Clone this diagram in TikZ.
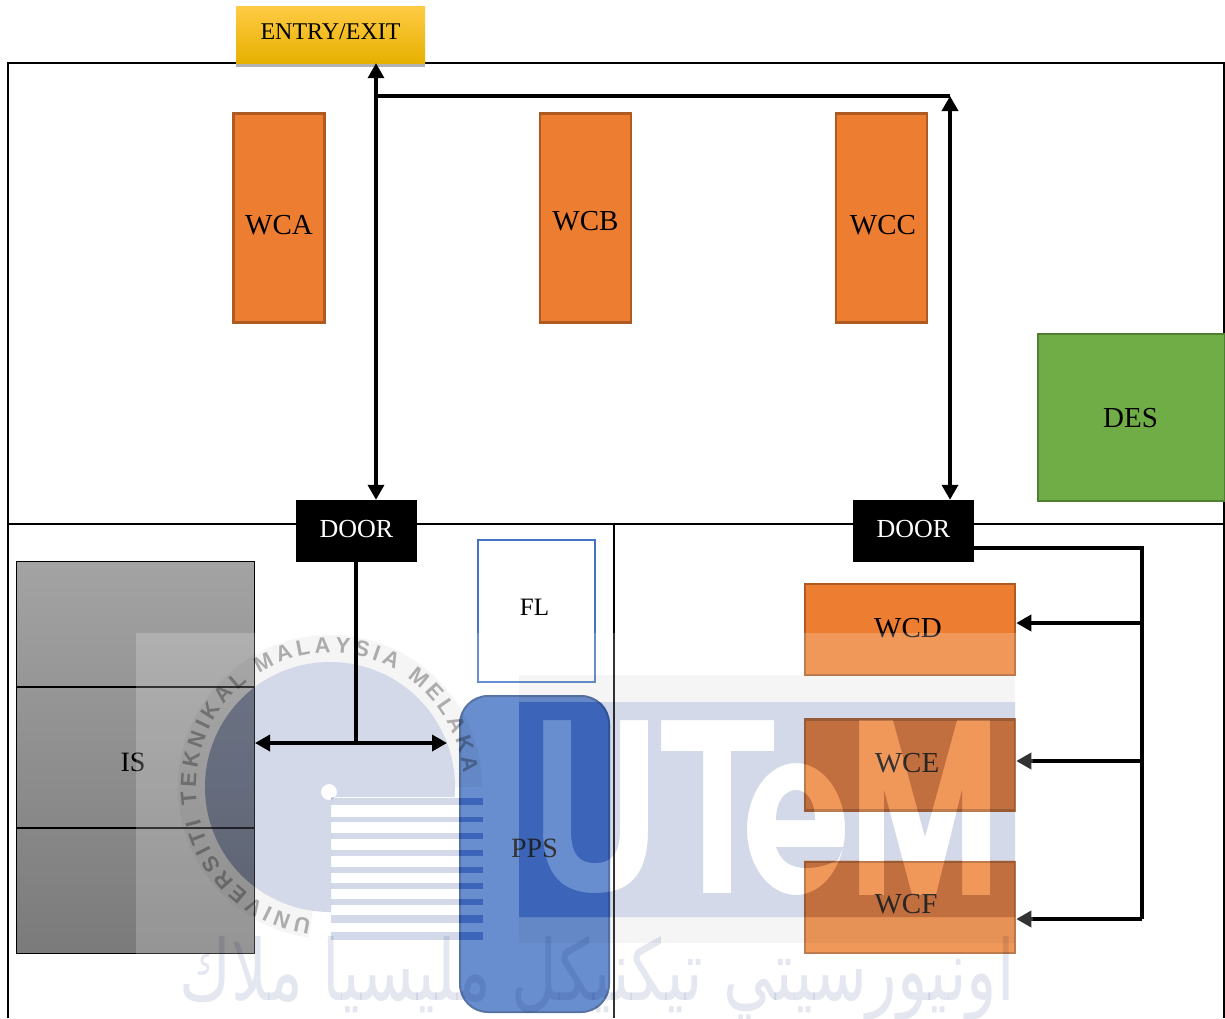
\documentclass[tikz,border=0pt]{standalone}
\usepackage{fontspec}
\setmainfont{Liberation Serif}
\setsansfont{Liberation Sans}
\newfontfamily\arabicfont[Script=Arabic]{DejaVu Sans}
\TeXXeTstate=1
\usetikzlibrary{arrows.meta,shadows,decorations.text,calc}
\definecolor{wmark}{HTML}{D3D9E8}
\definecolor{wband}{HTML}{F5F5F5}
\definecolor{wjawi}{HTML}{E4E7F0}
\definecolor{wonblue}{HTML}{B3D6FA}
\definecolor{wonorange}{HTML}{FADEC7}
\definecolor{wongray}{HTML}{C2C8D8}
\definecolor{wcfill}{HTML}{ED7D31}
\definecolor{wcedge}{HTML}{AE5A21}
\definecolor{entrytop}{HTML}{FFCB45}
\definecolor{entrymid}{HTML}{FFC000}
\definecolor{entrybot}{HTML}{E6B000}
\definecolor{desfill}{HTML}{70AD47}
\definecolor{desedge}{HTML}{507E32}
\definecolor{blueedge}{HTML}{4472C4}
\definecolor{ppsedge}{HTML}{2F528F}
\definecolor{ringtext}{HTML}{B4B4B4}
\newcommand{\fs}[1]{\fontsize{#1}{#1}\selectfont}
% the UTeM panel of the watermark, with its letters left open
\newcommand{\panelpath}{(519,702) rectangle (1015,917)
    (543,720) -- (543,830) .. controls (543,878) and (565,893) .. (595,893) .. controls (627,893) and (648,878) .. (648,830) -- (648,720) -- (620,720) -- (620,830) .. controls (620,855) and (610,863) .. (595,863) .. controls (580,863) and (571,855) .. (571,830) -- (571,720) -- cycle
    (661,720) -- (774,720) -- (774,751) -- (731,751) -- (731,893) -- (703,893) -- (703,751) -- (661,751) -- cycle
    (796,829) ellipse[x radius=49,y radius=66]
    (776,820) .. controls (776,800) and (786,790) .. (796,790) .. controls (806,790) and (815,800) .. (815,820) -- cycle
    (776,847) -- (843,847) -- (838,860) .. controls (826,866) and (815,868) .. (806,868) .. controls (790,868) and (780,860) .. (776,847) -- cycle
    (859,720) -- (893,720) -- (925,837) -- (957,720) -- (990,720) -- (990,895) -- (962,895) -- (962,790) -- (936,895) -- (912,895) -- (884,790) -- (884,895) -- (859,895) -- cycle}
\tikzset{
  frameline/.style={line width=2pt,black},
  wcbox/.style={draw=wcedge,fill=wcfill,line width=2.5pt,inner sep=0pt,font=\fs{29},text=black},
  doorbox/.style={fill=black,text=white,inner sep=0pt,minimum width=121pt,minimum height=62pt,font=\fs{26}},
  conn/.style={line width=3.5pt,black},
  both/.style={conn,{Triangle[length=15pt,width=16pt]}-{Triangle[length=15pt,width=16pt]}},
  tipped/.style={conn,-{Triangle[length=15pt,width=16pt]}},
  mult/.style={blend mode=multiply},
}
\begin{document}
\begin{tikzpicture}[x=1pt,y=-1pt]
\useasboundingbox (0,0) rectangle (1225,1018);
\fill[white] (0,0) rectangle (1225,1018);
% frame
\coordinate (fTL) at (8,63);
\coordinate (fTR) at (1224,63);
\coordinate (fBL) at (8,1018);
\coordinate (fBR) at (1224,1018);
\coordinate (fML) at (8,524);
\coordinate (fMR) at (1225,524);
\coordinate (fMM) at (614,524);
\coordinate (fMB) at (614,1018);
\draw[frameline] (fBL) -- (fTL) -- (fTR) -- (fBR);
\draw[frameline] (fML) -- (fMR);
\draw[frameline] (fMM) -- (fMB);
% boxes
\node[inner sep=0pt,minimum width=189pt,minimum height=57pt,
  top color=entrytop,middle color=entrymid,bottom color=entrybot,
  drop shadow={opacity=.3,shadow xshift=0pt,shadow yshift=-4pt,fill=black},
  label={[font=\fs{24},yshift=3pt]center:ENTRY/EXIT}] (entry) at (330.5,34.5) {};
\node[wcbox,minimum width=91pt,minimum height=209pt,label={[font=\fs{29},yshift=-7pt]center:WCA}] (wca) at (279,218) {};
\node[wcbox,minimum width=91pt,minimum height=209pt,label={[font=\fs{29},yshift=-3pt]center:WCB}] (wcb) at (585.5,218) {};
\node[wcbox,minimum width=91pt,minimum height=209pt,label={[font=\fs{29},xshift=1.5pt,yshift=-7pt]center:WCC}] (wcc) at (881.5,218) {};
\node[draw=desedge,fill=desfill,line width=2pt,inner sep=0pt,minimum width=187pt,minimum height=167pt,label={[font=\fs{29},xshift=-1pt,yshift=-1pt]center:DES}] (des) at (1131.5,417.5) {};
\node[doorbox] (door1) at (356.5,531) {\raisebox{4pt}{DOOR}};
\node[doorbox] (door2) at (913.5,531) {\raisebox{4pt}{DOOR}};
\node[draw=blueedge,fill=white,line width=2pt,inner sep=0pt,minimum width=117pt,minimum height=142pt,label={[font=\fs{25},xshift=-2pt,yshift=4pt]center:FL}] (fl) at (536.5,611) {};
\node[draw=black,line width=1pt,inner sep=0pt,minimum width=238pt,minimum height=392pt,
  top color=black!36,bottom color=black!52,label={[font=\fs{28},xshift=-2pt,yshift=-5pt]center:IS}] (is) at (135,757) {};
\draw[line width=2pt] (is.west |- 0,687) -- (is.east |- 0,687);
\draw[line width=2pt] (is.west |- 0,828) -- (is.east |- 0,828);
\node[draw=ppsedge,fill=blueedge,line width=2pt,rounded corners=28pt,inner sep=0pt,minimum width=149pt,minimum height=316pt,label={[font=\fs{28},yshift=6pt]center:PPS}] (pps) at (534.5,854) {};
\node[wcbox,minimum width=210pt,minimum height=91pt,label={[font=\fs{29},xshift=-2pt,yshift=1pt]center:WCD}] (wcd) at (910,629.5) {};
\node[wcbox,minimum width=210pt,minimum height=91pt,label={[font=\fs{29},xshift=-3pt,yshift=2pt]center:WCE}] (wce) at (910,765) {};
\node[wcbox,minimum width=210pt,minimum height=91pt,label={[font=\fs{29},xshift=-4pt,yshift=3pt]center:WCF}] (wcf) at (910,907.5) {};
% upper connectors
\coordinate (top1) at (376,96);
\coordinate (top2) at (950,96);
\draw[both] (entry.south -| top1) -- (door1.north -| top1);
\draw[conn] (top1) -- (top2);
\draw[both] (top2) -- (door2.north -| top2);
% right bus
\coordinate (busT) at (1142,548);
\coordinate (busB) at (1142,919);
\draw[conn] (door2.east |- busT) -- (busT) -- (busB);
\coordinate (busD) at (1142,623);
\coordinate (busE) at (1142,761);
\draw[tipped] (busD) -- (wcd.east |- busD);
\draw[tipped] (busE) -- (wce.east |- busE);
\draw[tipped] (busB) -- (wcf.east |- busB);
% watermark veil
\fill[white,opacity=.2] (136,633) rectangle (1033,1018);
\begin{scope}[mult]
  \fill[wband] (519,675) rectangle (1015,702);
  \fill[wband] (519,917) rectangle (1015,943);
  \begin{scope}[shift={(330,787)},y=1pt]
    \draw[wband,line width=27pt] (262:138.5) arc[start angle=262,end angle=0,radius=138.5];
    \fill[wmark,even odd rule] (1,-10) -- (-4.6:125) arc[start angle=-4.6,end angle=270,radius=125] -- (1,-125) -- cycle
      (-1,-5) circle[radius=8];
  \end{scope}
  \foreach \ya/\yb in {798/805,817/822,833/839,850/856,867/873,883/889,899/905,915/923,932/940}
    \fill[wmark] (331,\ya) rectangle (483,\yb);
  \fill[wmark,even odd rule] \panelpath;
  % the watermark bites harder into the coloured boxes
  \begin{scope}
    \clip[rounded corners=28pt] (pps.south west) rectangle (pps.north east);
    \fill[wonblue,even odd rule] \panelpath;
    \foreach \ya/\yb in {798/805,817/822,833/839,850/856,867/873,883/889,899/905,915/923,932/940}
      \fill[wonblue] (331,\ya) rectangle (483,\yb);
  \end{scope}
  \begin{scope}
    \clip (wce.south west) rectangle (wce.north east);
    \fill[wonorange,even odd rule] \panelpath;
  \end{scope}
  \begin{scope}
    \clip (wcf.south west) rectangle (wcf.north east);
    \fill[wonorange,even odd rule] \panelpath;
  \end{scope}
  \begin{scope}
    \clip (is.south west) rectangle (is.north east);
    \fill[wongray] (330,787) circle[radius=125];
  \end{scope}
  \begin{scope}[shift={(330,787)},y=1pt]
    \path[decorate,decoration={text along path,text align={fit to path},
      text={|\sffamily\bfseries\fs{22}\color{ringtext}|UNIVERSITI TEKNIKAL MALAYSIA MELAKA}}]
      (262:134) arc[start angle=262,end angle=6,radius=134];
  \end{scope}
  \node[inner sep=0pt,text=wjawi] (jawi) at (597,979) {\resizebox{835pt}{64pt}{\arabicfont\beginR اونيورسيتي تيكنيكل مليسيا ملاك\endR}};
\end{scope}
% lower-left connectors, over the watermark
\coordinate (split) at (356,743);
\coordinate (isend) at (255,743);
\coordinate (ppsend) at (447,743);
\draw[conn] (door1.south -| split) -- (split);
\draw[both] (isend) -- (ppsend);
\end{tikzpicture}
\end{document}
